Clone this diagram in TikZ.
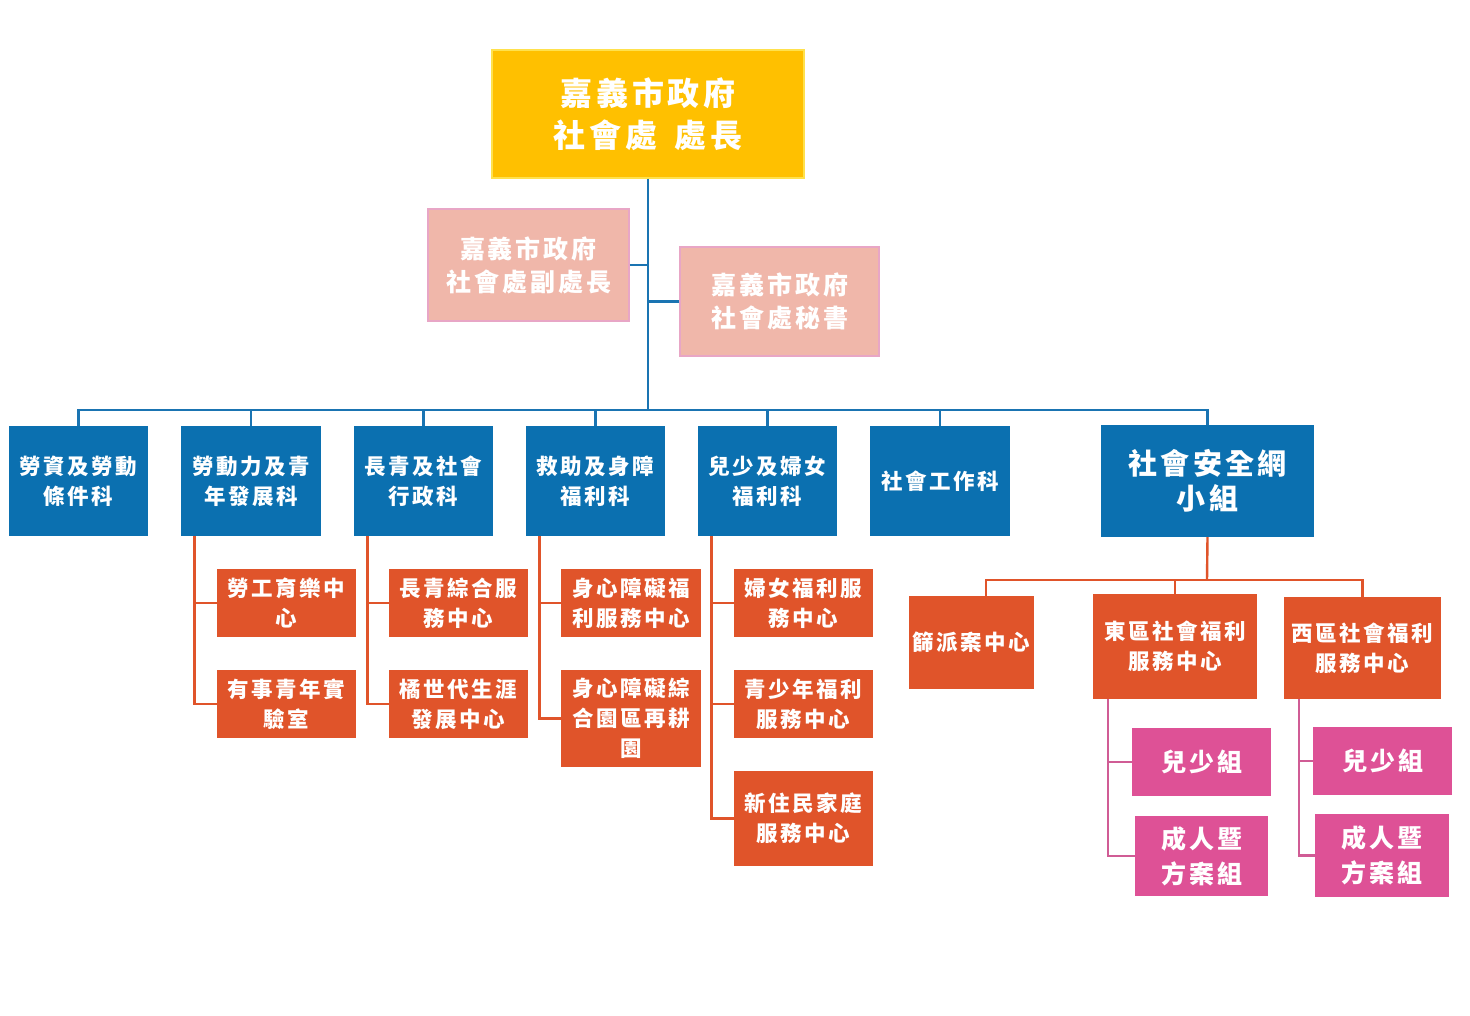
\documentclass[tikz,border=0pt]{standalone}
\usepackage{fontspec}
\newfontfamily\cjk[LetterSpace=12]{Noto Sans CJK TC}
\definecolor{cyellow}{HTML}{FFC000}
\definecolor{cyellowb}{HTML}{FFE14D}
\definecolor{csalmon}{HTML}{F0B7AA}
\definecolor{csalmonb}{HTML}{E8A6C6}
\definecolor{cblue}{HTML}{0B70B0}
\definecolor{cline}{HTML}{1A74B2}
\definecolor{corange}{HTML}{E0542A}
\definecolor{cpink}{HTML}{DE5196}
\definecolor{cpinkl}{HTML}{D05C95}
\tikzset{
  box/.style={inner sep=0pt, align=center, text=white},
  topbox/.style={box, fill=cyellow, draw=cyellowb, line width=1.2pt, font=\cjk\bfseries\fontsize{32}{42}\selectfont},
  depbox/.style={box, fill=csalmon, draw=csalmonb, line width=1.5pt, font=\cjk\bfseries\fontsize{25}{33}\selectfont},
  bluebox/.style={box, fill=cblue, font=\cjk\bfseries\fontsize{21.5}{30}\selectfont},
  orbox/.style={box, fill=corange, font=\cjk\bfseries\fontsize{21.5}{30}\selectfont},
  pkbox/.style={box, fill=cpink, font=\cjk\bfseries\fontsize{25}{35}\selectfont},
  bl/.style={draw=cline, line width=2.6pt},
  ol/.style={draw=corange, line width=2.4pt},
  pl/.style={draw=cpinkl, line width=2.2pt},
}
\begin{document}
\begin{tikzpicture}[x=1pt,y=-1pt]
\useasboundingbox (0,0) rectangle (1470,1016);
\fill[white] (0,0) rectangle (1470,1016);
% top
\node[topbox, minimum width=312, minimum height=128] (top) at (648,114) {嘉義市政府\\社會處\hspace{0.55em}處長};
\node[depbox, minimum width=201, minimum height=112] (dep) at (528.5,265) {嘉義市政府\\社會處副處長};
\node[depbox, minimum width=199, minimum height=109] (sec) at (779.5,301.5) {嘉義市政府\\社會處秘書};
% blue row
\node[bluebox, minimum width=139, minimum height=110] (b1) at (78.5,481) {勞資及勞動\\條件科};
\node[bluebox, minimum width=140, minimum height=110] (b2) at (251,481) {勞動力及青\\年發展科};
\node[bluebox, minimum width=139, minimum height=110] (b3) at (423.5,481) {長青及社會\\行政科};
\node[bluebox, minimum width=139, minimum height=110] (b4) at (595.5,481) {救助及身障\\福利科};
\node[bluebox, minimum width=139, minimum height=110] (b5) at (767.5,481) {兒少及婦女\\福利科};
\node[bluebox, minimum width=140, minimum height=110] (b6) at (940,481) {社會工作科};
\node[bluebox, minimum width=213, minimum height=112, font=\cjk\bfseries\fontsize{29}{35}\selectfont] (b7) at (1207.5,481) {社會安全網\\小組};
% orange children
\node[orbox, minimum width=139, minimum height=68] (c21) at (286.5,603) {勞工育樂中\\心};
\node[orbox, minimum width=139, minimum height=68] (c22) at (286.5,704) {有事青年實\\驗室};
\node[orbox, minimum width=139, minimum height=68] (c31) at (458.5,603) {長青綜合服\\務中心};
\node[orbox, minimum width=139, minimum height=68] (c32) at (458.5,704) {橘世代生涯\\發展中心};
\node[orbox, minimum width=140, minimum height=68] (c41) at (631,603) {身心障礙福\\利服務中心};
\node[orbox, minimum width=140, minimum height=97] (c42) at (631,718.5) {身心障礙綜\\合園區再耕\\園};
\node[orbox, minimum width=139, minimum height=68] (c51) at (803.5,603) {婦女福利服\\務中心};
\node[orbox, minimum width=139, minimum height=68] (c52) at (803.5,704) {青少年福利\\服務中心};
\node[orbox, minimum width=139, minimum height=95] (c53) at (803.5,818.5) {新住民家庭\\服務中心};
\node[orbox, minimum width=125, minimum height=93] (s1) at (971.5,642.5) {篩派案中心};
\node[orbox, minimum width=164, minimum height=105] (s2) at (1175,646.5) {東區社會福利\\服務中心};
\node[orbox, minimum width=157, minimum height=102] (s3) at (1362.5,648) {西區社會福利\\服務中心};
% pink
\node[pkbox, minimum width=139, minimum height=68] (e1) at (1201.5,762) {兒少組};
\node[pkbox, minimum width=133, minimum height=80] (e2) at (1201.5,856) {成人暨\\方案組};
\node[pkbox, minimum width=139, minimum height=68] (w1) at (1382.5,761) {兒少組};
\node[pkbox, minimum width=134, minimum height=83] (w2) at (1382,855.5) {成人暨\\方案組};
% blue connectors
\coordinate (bus) at (648,410);
\draw[bl] (top.south) -- (bus);
\draw[bl] (dep.east) -- (dep.east -| bus);
\draw[bl] (sec.west) -- (sec.west -| bus);
\foreach \b in {b1,b2,b3,b4,b5,b6,b7} \draw[bl] (bus) -| (\b.north);
% orange connectors
\foreach \p/\a/\c in {b2/c21/c22, b3/c31/c32, b4/c41/c42} {
  \draw[ol] ([xshift=13.5pt]\p.south west) |- (\c.west);
  \draw[ol] ([xshift=13.5pt]\p.south west |- \a.west) -- (\a.west);
}
\draw[ol] ([xshift=13.5pt]b5.south west) |- (c53.west);
\draw[ol] ([xshift=13.5pt]b5.south west |- c51.west) -- (c51.west);
\draw[ol] ([xshift=13.5pt]b5.south west |- c52.west) -- (c52.west);
\coordinate (sbus) at (1207,580);
\draw[ol] (b7.south) -- (sbus);
\draw[ol] (sbus) -| ([xshift=14.5pt]s1.north);
\draw[ol] (sbus) -| (s2.north);
\draw[ol] (sbus) -| (s3.north);
% pink connectors
\draw[pl] ([xshift=15pt]s2.south west) |- (e2.west);
\draw[pl] ([xshift=15pt]s2.south west |- e1.west) -- (e1.west);
\draw[pl] ([xshift=15pt]s3.south west) |- (w2.west);
\draw[pl] ([xshift=15pt]s3.south west |- w1.west) -- (w1.west);
\end{tikzpicture}
\end{document}
